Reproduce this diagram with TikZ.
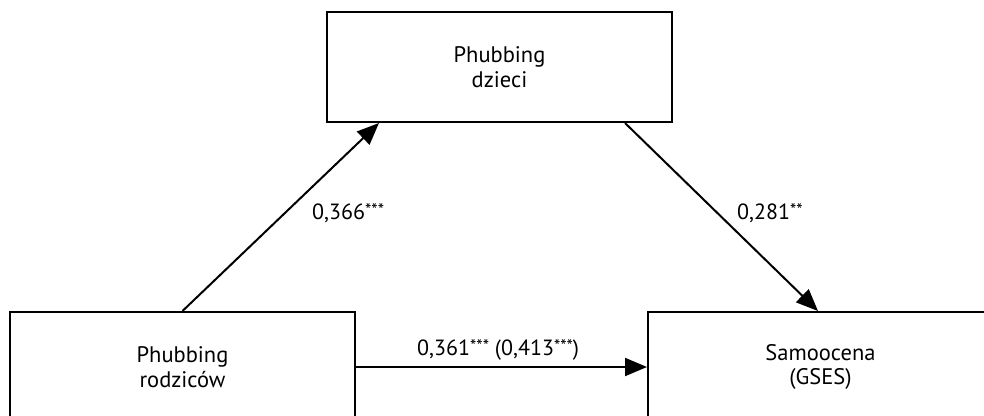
\documentclass[tikz,border=0pt]{standalone}
\usepackage{fontspec}
\setmainfont{PT Sans}
\usetikzlibrary{arrows.meta,calc}

\tikzset{
  varbox/.style={draw=black, line width=2pt, rectangle,
    minimum width=345pt, minimum height=110pt, align=center,
    font=\fontsize{22.5}{24.5}\selectfont, inner sep=0pt},
  path/.style={draw=black, line width=2pt,
    -{Triangle[length=22pt,width=18pt]}},
  coef/.style={anchor=base west, inner sep=0pt,
    font=\fontsize{22}{24}\selectfont}
}
% significance stars set small and raised to the digit tops
\newcommand{\sig}[1]{\raisebox{2.5pt}{\fontsize{18}{18}\selectfont #1}}

\begin{document}
\begin{tikzpicture}[x=1pt,y=-1pt]
  \useasboundingbox (0,0) rectangle (984,415);

  % the three variables of the mediation model
  \node[varbox] (med) at (499.5,67)  {Phubbing\\dzieci};
  \node[varbox] (x)   at (182.5,367) {Phubbing\\rodziców};
  \node[varbox] (y)   at (820.5,367) {Samoocena\\(GSES)};

  % paths a, b and c
  \draw[path] (x.north) -- ([xshift=-120.5pt]med.south);
  \draw[path] ([xshift=125.5pt]med.south) -- ([xshift=-2.5pt]y.north);
  \draw[path] (x.east) -- (y.west);

  % path coefficients
  \node[coef] (ca) at (312,219) {0,366\sig{***}};
  \node[coef] (cb) at (737,219) {0,281\sig{**}};
  \node[coef] (cc) at (417,355) {0,361\sig{***} (0,413\sig{***})};
\end{tikzpicture}
\end{document}
